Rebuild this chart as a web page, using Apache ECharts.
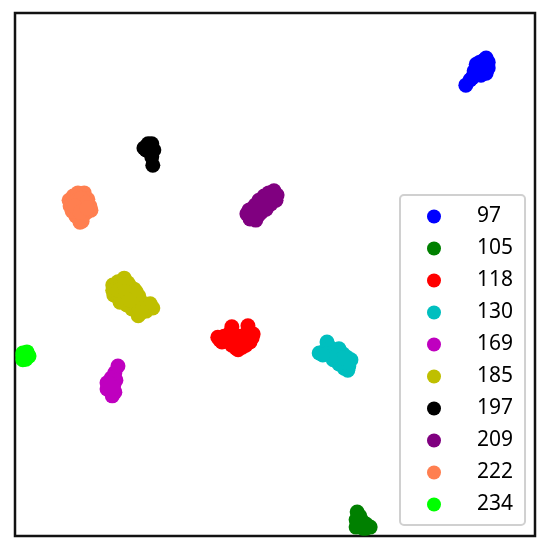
<!DOCTYPE html>
<html>
<head>
<meta charset="utf-8">
<script src="https://cdn.jsdelivr.net/npm/echarts@6/dist/echarts.min.js"></script>
<style>
  html, body { margin: 0; padding: 0; background: #fff; }
  #chart { width: 550px; height: 549px; }
</style>
</head>
<body>
<div id="chart"></div>
<script>
// cluster labels shown in the legend
const labels = ['97', '105', '118', '130', '169', '185', '197', '209', '222', '234'];
const colors = ['#0000ff', '#008000', '#ff0000', '#00bfbf', '#bf00bf', '#bfbf00', '#000000', '#800080', '#ff7f50', '#00ff00'];

// embedded points per cluster, [x, y]
const c97 = [[86.7,86.2],[87.5,87.2],[88.3,88.0],[88.3,88.9],[89.0,89.5],[89.4,90.6],[90.2,91.0],[91.0,90.6],
  [91.0,89.5],[90.6,88.5],[89.6,88.1],[89.0,88.7],[90.0,89.9],[90.6,91.4],[88.7,90.2],[87.9,87.6],
  [89.8,89.1],[90.4,90.2]];
const c105 = [[65.8,4.6],[66.3,3.8],[65.6,3.1],[66.7,2.9],[67.5,2.3],[68.3,1.7],[65.6,1.7],[66.9,1.5],
  [67.5,1.5],[66.3,2.3]];
const c118 = [[39.0,38.0],[40.2,38.2],[41.3,38.8],[41.7,40.0],[42.5,37.9],[43.3,36.9],[42.5,35.9],[41.2,37.1],
  [39.8,37.1],[44.0,37.5],[44.8,39.2],[44.8,40.2],[45.8,38.6],[45.6,37.9],[44.4,36.5],[42.9,35.6],
  [40.6,37.7],[41.9,37.5],[43.3,38.2],[44.4,38.2],[45.2,37.1],[43.7,36.1],[41.7,36.5],[39.4,37.5]];
const c130 = [[58.5,35.0],[59.6,35.4],[60.0,37.1],[60.8,35.9],[61.5,35.2],[62.3,35.8],[63.1,34.8],[63.8,34.2],
  [64.6,33.7],[64.2,32.5],[63.3,32.1],[62.3,32.9],[61.2,33.7],[61.9,34.0],[64.0,31.7],
  [60.6,34.8],[61.7,34.4],[62.7,33.7],[63.5,33.3],[63.3,34.0],[59.2,34.6]];
const c169 = [[19.8,32.5],[19.2,31.2],[18.5,30.2],[17.7,29.3],[17.7,28.1],[18.5,27.9],[19.0,28.9],[19.2,27.5],
  [18.7,26.8],[19.4,29.8],[18.3,29.1],[18.8,28.3]];
const c185 = [[18.8,48.0],[19.0,46.1],[19.8,48.6],[21.0,49.3],[21.7,48.4],[20.8,47.0],[19.8,45.7],[21.2,45.1],
  [22.3,46.5],[22.9,47.2],[23.8,45.9],[24.4,44.7],[25.4,44.2],[26.5,43.6],[25.2,43.0],[23.8,42.6],
  [23.7,42.1],[22.5,43.4],[21.5,44.2],[20.2,44.7],[22.1,47.8],
  [18.8,47.0],[19.8,47.0],[21.0,48.0],[21.7,46.1],[22.9,45.5],[22.7,44.6],[23.7,44.0],[24.8,43.8],
  [26.0,44.4],[23.3,46.7],[21.2,46.7],[22.1,45.1],[24.4,42.8]];
const c197 = [[24.8,74.2],[25.6,75.0],[26.3,75.0],[26.7,73.8],[26.0,73.4],[26.3,72.5],[26.5,70.9],[25.4,74.6],
  [26.2,74.0],[25.2,73.8],[25.8,74.4]];
const c209 = [[44.6,61.6],[45.4,62.5],[46.2,63.3],[46.9,64.2],[47.9,65.0],[48.8,65.6],[49.8,66.0],[50.4,65.2],
  [50.2,64.2],[49.2,63.5],[48.3,62.5],[47.3,61.8],[46.3,61.0],[45.2,60.6],[46.0,61.9],[47.5,63.5],
  [48.7,64.4],[46.3,60.4],[45.6,61.4],[46.7,62.3],[47.9,63.5],[49.0,64.6],[49.6,65.0],[45.0,62.3],
  [48.3,63.9],[46.7,61.2],[49.4,63.9]];
const c222 = [[10.4,64.2],[10.6,63.1],[11.2,65.0],[12.1,65.6],[13.3,65.6],[14.0,64.4],[14.4,63.1],[14.6,62.3],
  [13.7,61.8],[12.9,60.8],[12.5,60.0],[11.7,61.2],[11.0,62.1],[12.3,63.3],[13.3,62.9],[11.9,64.2],[12.9,60.2],
  [12.7,64.6],[13.7,63.7],[11.5,63.1],[12.5,61.9],[13.8,62.7]];
const c234 = [[1.5,35.0],[2.3,35.2],[2.7,34.4],[2.1,33.8],[1.5,33.7],[1.5,34.4],[2.5,34.6]];

const clusters = [c97, c105, c118, c130, c169, c185, c197, c209, c222, c234];

const chart = echarts.init(document.getElementById('chart'));

chart.setOption({
    animation: false,
    backgroundColor: '#fff',
    grid: {
        left: 15, top: 13, width: 520, height: 523,
        show: true, borderColor: '#111', borderWidth: 2.5, backgroundColor: 'transparent'
    },
    xAxis: { type: 'value', min: 0, max: 100, show: false },
    yAxis: { type: 'value', min: 0, max: 100, show: false },
    legend: {
        orient: 'vertical',
        left: 400, top: 195,
        padding: [11, 12, 10, 27],
        itemWidth: 14, itemHeight: 14, itemGap: 11,
        icon: 'circle',
        backgroundColor: '#fff',
        borderColor: '#d0d0d0', borderWidth: 2, borderRadius: 4,
        textStyle: {
            fontFamily: 'Noto Sans', fontSize: 21, lineHeight: 20,
            color: '#000', padding: [0, 0, 0, 31]
        },
        data: labels
    },
    series: clusters.map((pts, i) => ({
        name: labels[i],
        type: 'scatter',
        clip: true,
        symbolSize: 15,
        itemStyle: { color: colors[i], opacity: 1 },
        data: pts
    }))
});
</script>
</body>
</html>
